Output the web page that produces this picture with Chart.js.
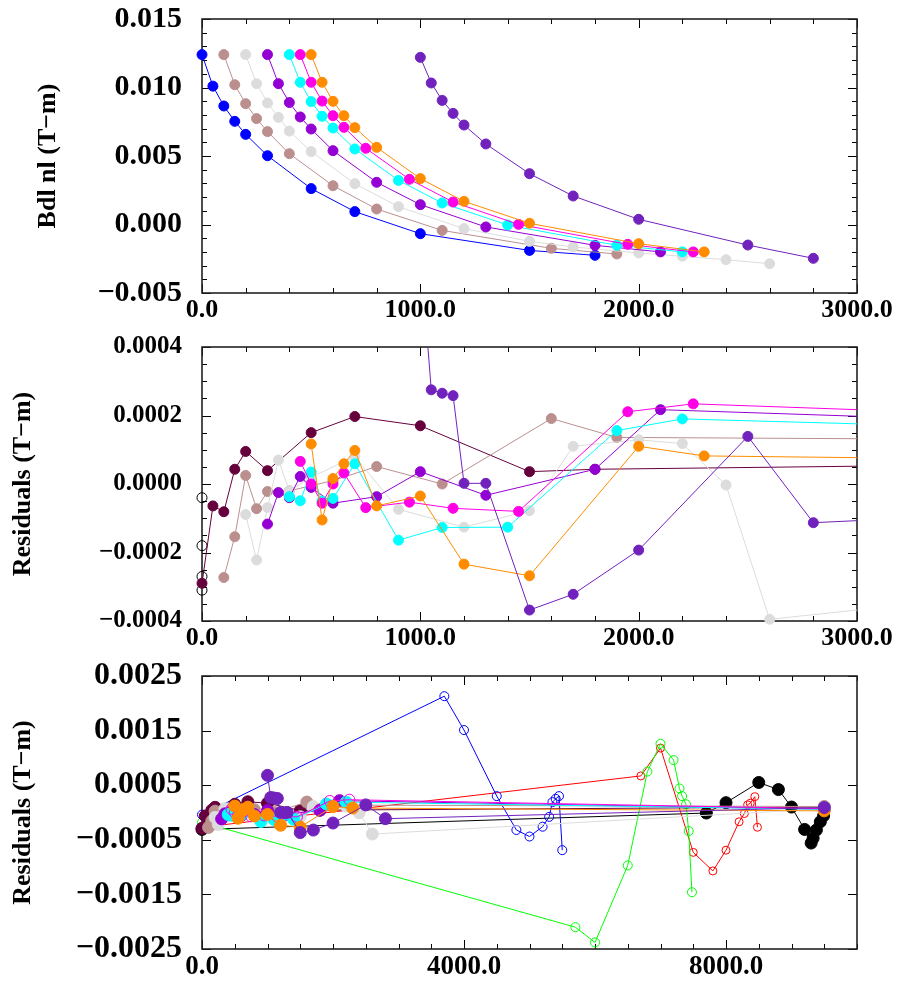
<!DOCTYPE html>
<html>
<head>
<meta charset="utf-8">
<script src="https://cdn.jsdelivr.net/npm/chart.js"></script>
<style>
  html, body { margin: 0; padding: 0; background: #fff; overflow: hidden; }
  canvas { position: absolute; left: 0; }
</style>
</head>
<body>
<canvas id="field" width="897" height="333" style="top:0px"></canvas>
<canvas id="resid" width="897" height="331" style="top:330px"></canvas>
<canvas id="full" width="897" height="331" style="top:658px"></canvas>
<script>
// ---- runs: x positions, integrated field, residuals ----
const run1X   = [0, 50, 100, 150, 200, 300, 500, 700, 1000, 1500, 1800];
const run1Bdl = [0.0124, 0.0101, 0.00865, 0.00753, 0.00658, 0.00502, 0.00262, 0.00094, -0.00067, -0.00189, -0.00225];
const run1Res = [-0.00029, -0.000064, -0.000081, 0.000043, 0.000095, 0.000039, 0.00015, 0.000197, 0.00017, 0.000036, 0.000043];

const run2X   = [100, 150, 200, 250, 300, 400, 600, 800, 1100, 1600, 1900];
const run2Bdl = [0.0124, 0.0102, 0.00882, 0.00773, 0.00678, 0.00517, 0.00283, 0.00113, -0.00043, -0.00174, -0.00215];
const run2Res = [-0.000273, -0.000154, 0.000025, -0.000072, -0.000022, -0.00002, 0.00001, 0.000051, 0.0, 0.000191, 0.000136];

const run3X   = [200, 250, 300, 350, 400, 500, 700, 900, 1200, 1500, 1700, 2000, 2200, 2400, 2600];
const run3Bdl = [0.0124, 0.01028, 0.00887, 0.00782, 0.00682, 0.00532, 0.00298, 0.0013, -0.0003, -0.00123, -0.00164, -0.00208, -0.00232, -0.00257, -0.00286];
const run3Res = [-0.000089, -0.000222, -0.000069, 0.00007, -0.00002, 0.00002, 0.00008, -0.000074, -0.000126, -0.000078, 0.00011, 0.000129, 0.000118, -0.000003, -0.000395];

const run4X   = [300, 350, 400, 450, 500, 600, 800, 1000, 1300, 1800, 2100];
const run4Bdl = [0.0124, 0.01028, 0.0089, 0.00785, 0.00697, 0.00539, 0.00308, 0.00145, -0.00018, -0.00152, -0.002];
const run4Res = [-0.000117, -0.000025, -0.00004, 0.000022, -0.00001, -0.000056, -0.000037, 0.000036, -0.000033, 0.000043, 0.000217];

const run5X   = [400, 450, 500, 550, 600, 700, 900, 1100, 1400, 1900, 2200];
const run5Bdl = [0.0124, 0.01038, 0.00897, 0.0079, 0.00704, 0.00551, 0.00322, 0.00157, -0.00004, -0.00152, -0.002];
const run5Res = [-0.000037, -0.000049, 0.000035, -0.00005, -0.000042, 0.000059, -0.000164, -0.000127, -0.000126, 0.000156, 0.00019];

const run6X   = [450, 500, 550, 600, 650, 750, 950, 1150, 1450, 1950, 2250];
const run6Bdl = [0.0124, 0.01038, 0.00901, 0.00794, 0.00709, 0.00556, 0.0033, 0.00164, 0.00001, -0.00145, -0.002];
const run6Res = [0.000066, 0.0, -0.000056, 0.0, 0.000032, -0.000069, -0.000053, -0.000071, -0.00008, 0.000211, 0.000234];

const run7X   = [500, 550, 600, 650, 700, 800, 1000, 1200, 1500, 2000, 2300];
const run7Bdl = [0.0124, 0.01038, 0.00899, 0.00794, 0.00707, 0.00563, 0.00335, 0.00169, 0.00009, -0.0014, -0.002];
const run7Res = [0.000117, -0.000105, 0.000016, 0.000059, 0.000098, -0.000064, -0.000035, -0.000234, -0.000268, 0.00011, 0.000082];

const run8X   = [1000, 1050, 1100, 1150, 1200, 1300, 1500, 1700, 2000, 2500, 2800];
const run8Bdl = [0.0122, 0.01033, 0.00906, 0.00811, 0.00726, 0.00588, 0.00371, 0.00208, 0.00038, -0.0015, -0.00247];
const run8Res = [0.00068, 0.000275, 0.000265, 0.000258, 0.000002, 0.000002, -0.000368, -0.000322, -0.000193, 0.000139, -0.000113];

// every run ends with one far point
const endX = 9500;
const endRes = [0.0001, 0.00011, 0.00007, 0.00006, 0.00006, 0.00007, 0.00003, 0.00009];

// ---- scans only in the bottom panel ----
const scanBlueX   = [0, 3700, 4000, 4500, 4800, 5000, 5200, 5300, 5350, 5400, 5450, 5500];
const scanBlueRes = [-0.00004, 0.00213, 0.00151, 0.0003, -0.00032, -0.00044, -0.00026, -0.00008, 0.00019, 0.00025, 0.0003, -0.00069];
const scanGreenX   = [0, 5700, 6000, 6500, 6800, 7000, 7200, 7290, 7330, 7390, 7430, 7480];
const scanGreenRes = [-0.00018, -0.0021, -0.00238, -0.00097, 0.00075, 0.00126, 0.00096, 0.00044, 0.0003, 0.00015, -0.00034, -0.00146];
const scanRedX   = [0, 6700, 7000, 7500, 7800, 8000, 8200, 8280, 8330, 8370, 8440, 8480];
const scanRedRes = [-0.00027, 0.00067, 0.00118, -0.00073, -0.00107, -0.00069, -0.00017, -0.00002, 0.00014, 0.00017, 0.00029, -0.00027];
const scanBlackX   = [0, 7700, 8000, 8500, 8800, 9000, 9200, 9300, 9330, 9380, 9440, 9490];
const scanBlackRes = [-0.00031, -0.00001, 0.00018, 0.00055, 0.00042, 0.0001, -0.00031, -0.00056, -0.00047, -0.00032, -0.00017, -0.00006];

// ---- tick labels ----
const shortXTicks = [0, 1000, 2000, 3000];
const longXTicks  = [0, 4000, 8000];
const bdlYTicks   = [-0.005, 0, 0.005, 0.010, 0.015];
const resYTicks   = [-0.0004, -0.0002, 0, 0.0002, 0.0004];
const fullYTicks  = [-0.0025, -0.0015, -0.0005, 0.0005, 0.0015, 0.0025];

const fieldColors = ['#0000ff', '#bc8f8f', '#dcdcdc', '#9400d3', '#00ffff', '#ff00e6', '#ff8c00', '#7122bc'];
const residColors = ['#66003d', '#bc8f8f', '#dcdcdc', '#9400d3', '#00ffff', '#ff00e6', '#ff8c00', '#7122bc'];

const runsX   = [run1X, run2X, run3X, run4X, run5X, run6X, run7X, run8X];
const runsBdl = [run1Bdl, run2Bdl, run3Bdl, run4Bdl, run5Bdl, run6Bdl, run7Bdl, run8Bdl];
const runsRes = [run1Res, run2Res, run3Res, run4Res, run5Res, run6Res, run7Res, run8Res];

const fmt = (v, d) => (v < -1e-12 ? '\u2212' : '') + Math.abs(v).toFixed(d);
const serif = (size) => ({ family: 'Liberation Serif', size: size, weight: 'bold' });

function series(xs, ys, color, extra) {
  return Object.assign({
    data: xs.map((x, i) => ({ x: x, y: ys[i] })),
    showLine: true,
    borderColor: color,
    backgroundColor: color,
    pointBackgroundColor: color,
    pointBorderColor: color,
    borderWidth: 1,
    pointRadius: 5,
    pointHoverRadius: 5,
    pointBorderWidth: 1,
    clip: false
  }, extra || {});
}

// frame + inward tick marks on the four sides
const frameTicks = {
  id: 'frameTicks',
  beforeDatasetsDraw(chart, args, opts) {
    const { ctx, chartArea: a, scales } = chart;
    const xs = scales.x, ys = scales.y;
    ctx.save();
    ctx.strokeStyle = '#000';
    ctx.lineWidth = 1;
    const isMajor = (scale, v, step) => scale.ticks.some(t => Math.abs(t.value - v) < step * 1e-3);
    const nx = Math.round((xs.max - xs.min) / opts.xStep);
    for (let i = 0; i <= nx; i++) {
      const v = xs.min + i * opts.xStep;
      const px = Math.round(xs.getPixelForValue(v)) + 0.5;
      const len = isMajor(xs, v, opts.xStep) ? 9 : 5;
      ctx.beginPath();
      ctx.moveTo(px, a.bottom); ctx.lineTo(px, a.bottom - len);
      ctx.moveTo(px, a.top); ctx.lineTo(px, a.top + len);
      ctx.stroke();
    }
    const ny = Math.round((ys.max - ys.min) / opts.yStep);
    for (let i = 0; i <= ny; i++) {
      const v = ys.min + i * opts.yStep;
      const py = Math.round(ys.getPixelForValue(v)) + 0.5;
      const len = isMajor(ys, v, opts.yStep) ? 9 : 5;
      ctx.beginPath();
      ctx.moveTo(a.left, py); ctx.lineTo(a.left + len, py);
      ctx.moveTo(a.right, py); ctx.lineTo(a.right - len, py);
      ctx.stroke();
    }
    ctx.strokeStyle = '#222';
    ctx.lineWidth = 1.6;
    ctx.strokeRect(a.left, a.top, a.right - a.left, a.bottom - a.top);
    ctx.restore();
  }
};

function panel(id, p) {
  return new Chart(document.getElementById(id), {
    type: 'scatter',
    data: { datasets: p.datasets.slice().reverse() },
    options: {
      responsive: false,
      animation: false,
      events: [],
      layout: { padding: { top: p.top, right: 40, left: 0, bottom: 0 } },
      plugins: {
        legend: { display: false },
        tooltip: { enabled: false },
        frameTicks: { xStep: p.xStep, yStep: p.yStep }
      },
      scales: {
        x: {
          type: 'linear', min: p.xMin, max: p.xMax,
          grid: { display: false, drawTicks: false },
          border: { display: false },
          afterBuildTicks: s => { s.ticks = p.xTicks.map(v => ({ value: v })); },
          afterFit: s => { s.height = 40; s.paddingLeft = 0; s.paddingRight = 0; },
          ticks: { autoSkip: false, maxRotation: 0, color: '#000', padding: 2,
                   font: serif(p.xFont), callback: v => fmt(v, 1) }
        },
        y: {
          type: 'linear', min: p.yMin, max: p.yMax,
          grid: { display: false, drawTicks: false },
          border: { display: false },
          afterBuildTicks: s => { s.ticks = p.yTicks.map(v => ({ value: v })); },
          afterFit: s => { s.width = 202; s.paddingTop = 0; s.paddingBottom = 0; },
          ticks: { autoSkip: false, color: '#000', padding: 20,
                   font: serif(p.yFont), callback: v => fmt(v, p.yDigits) },
          title: { display: true, text: p.title, color: '#000', font: serif(26),
                   padding: { top: p.titlePad, bottom: 0 } }
        }
      }
    },
    plugins: [frameTicks]
  });
}

// top: integrated field
panel('field', {
  top: 19, xMin: 0, xMax: 3000, yMin: -0.005, yMax: 0.015,
  xStep: 200, yStep: 0.001, xTicks: shortXTicks, yTicks: bdlYTicks, yDigits: 3,
  xFont: 26, yFont: 30, title: 'Bdl nl (T\u2212m)', titlePad: 33,
  datasets: runsX.map((xs, i) => series(xs, runsBdl[i], fieldColors[i]))
});

// middle: residuals, zoomed
const startRings = {
  data: [scanBlueRes[0], scanGreenRes[0], scanRedRes[0], scanBlackRes[0]].map(y => ({ x: 0, y: y })),
  showLine: false, pointRadius: 5, pointHoverRadius: 5, pointBorderWidth: 1,
  pointBorderColor: '#000', pointBackgroundColor: 'rgba(0,0,0,0)', clip: false
};
panel('resid', {
  top: 17, xMin: 0, xMax: 3000, yMin: -0.0004, yMax: 0.0004,
  xStep: 200, yStep: 0.00005, xTicks: shortXTicks, yTicks: resYTicks, yDigits: 4,
  xFont: 26, yFont: 25, title: 'Residuals (T\u2212m)', titlePad: 8,
  datasets: [startRings].concat(runsX.map((xs, i) => series(xs.concat([endX]), runsRes[i].concat([endRes[i]]), residColors[i],
    { clip: { left: 8, top: 0, right: 0, bottom: 8 } })))
});

// bottom: residuals, all scans
const ring = (r) => ({ pointBackgroundColor: 'rgba(0,0,0,0)', pointRadius: r, pointHoverRadius: r, backgroundColor: 'rgba(0,0,0,0)' });
panel('full', {
  top: 18, xMin: 0, xMax: 10000, yMin: -0.0025, yMax: 0.0025,
  xStep: 500, yStep: 0.001, xTicks: longXTicks, yTicks: fullYTicks, yDigits: 4,
  xFont: 27, yFont: 32, title: 'Residuals (T\u2212m)', titlePad: 8,
  datasets: [
    series(scanBlackX, scanBlackRes, '#000000', { pointRadius: 6, pointHoverRadius: 6 }),
    series(scanRedX, scanRedRes, '#ff0000', ring(4)),
    series(scanGreenX, scanGreenRes, '#00ff00', ring(4.5)),
    series(scanBlueX, scanBlueRes, '#0000ff', ring(4.5))
  ].concat(runsX.map((xs, i) => series(xs.concat([endX]), runsRes[i].concat([endRes[i]]), residColors[i],
    i === 5 ? ring(5.5) : { pointRadius: 6, pointHoverRadius: 6 })))
});
</script>
</body>
</html>
